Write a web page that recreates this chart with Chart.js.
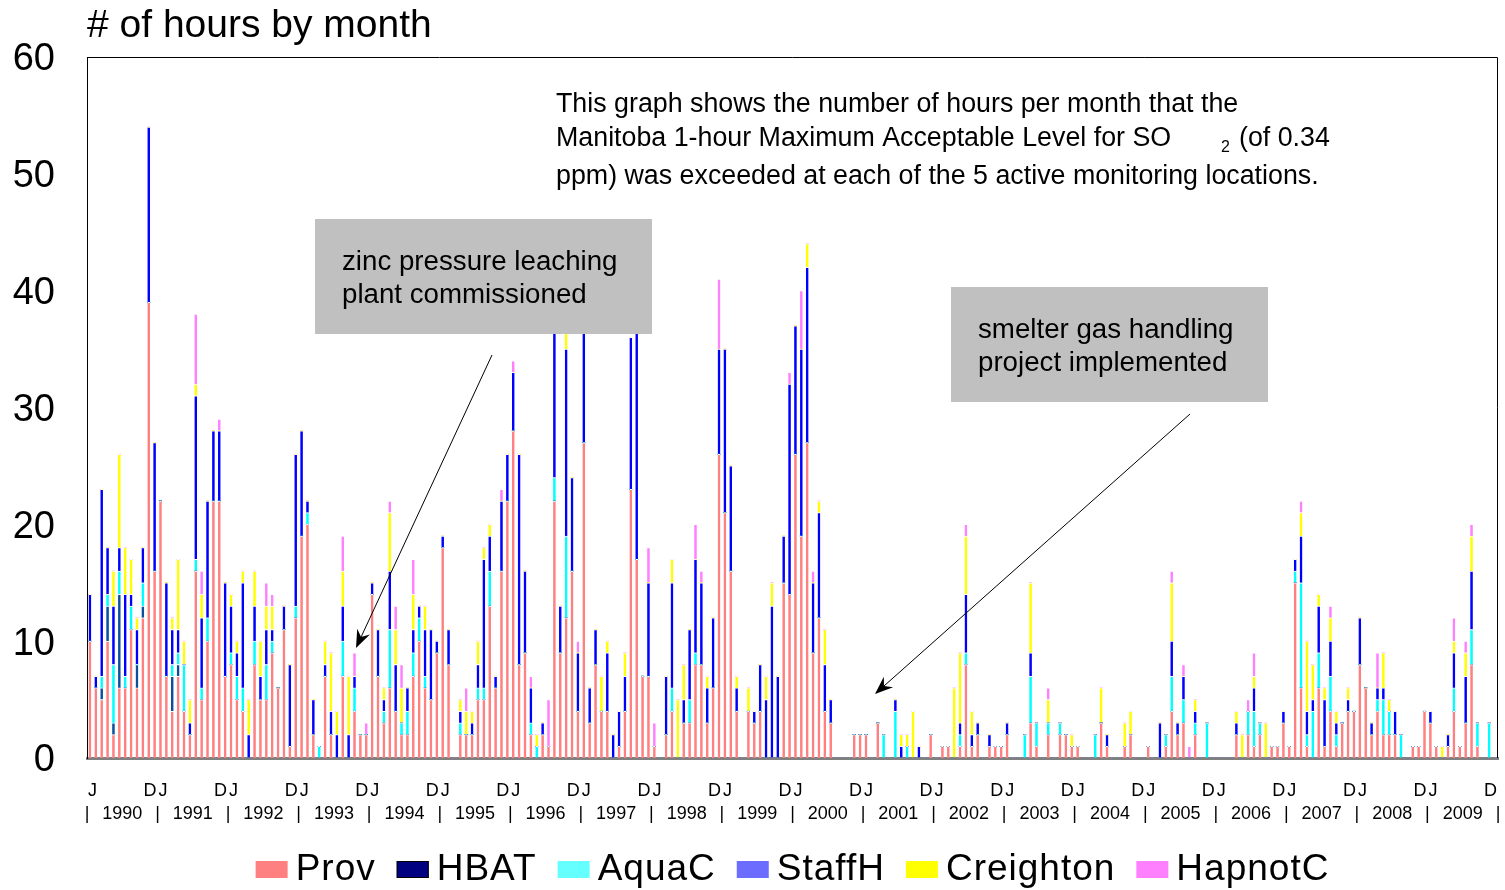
<!DOCTYPE html>
<html>
<head>
<meta charset="utf-8">
<script src="https://cdn.jsdelivr.net/npm/chart.js@4.4.0/dist/chart.umd.min.js"></script>
<style>
  html, body { margin: 0; padding: 0; background: #fff; }
  #wrap { width: 1505px; height: 890px; }
</style>
</head>
<body>
<div id="wrap"><canvas id="so2-chart" width="1505" height="890"></canvas></div>
<script>
// hours per month above the Manitoba 1-hour SO2 level, one line per year (1990..2009)
var years = [1990, 1991, 1992, 1993, 1994, 1995, 1996, 1997, 1998, 1999,
             2000, 2001, 2002, 2003, 2004, 2005, 2006, 2007, 2008, 2009];
var yTicks = [0, 10, 20, 30, 40, 50, 60];
var seriesNames = ['Prov', 'HBAT', 'AquaC', 'StaffH', 'Creighton', 'HapnotC'];

var prov = [
    10, 6, 5, 10, 2, 6, 6, 11, 6, 12, 39, 16,
    22, 7, 4, 7, 4, 2, 16, 5, 10, 22, 22, 7,
    8, 5, 4, 0, 8, 5, 5, 9, 6, 11, 1, 12,
    19, 20, 2, 0, 7, 2, 0, 7, 0, 4, 2, 2,
    14, 7, 3, 6, 4, 2, 2, 7, 10, 6, 5, 9,
    18, 8, 0, 2, 2, 2, 5, 5, 13, 6, 16, 22,
    28, 8, 9, 2, 0, 2, 1, 22, 9, 12, 16, 4,
    27, 3, 8, 4, 4, 0, 1, 4, 23, 17, 7, 7,
    1, 0, 2, 4, 0, 3, 3, 8, 8, 3, 6, 26,
    21, 16, 4, 0, 4, 3, 4, 0, 0, 0, 15, 14,
    26, 19, 27, 9, 12, 4, 3, 0, 0, 0, 2, 2,
    2, 0, 3, 0, 0, 0, 0, 0, 0, 0, 0, 2,
    0, 1, 1, 0, 1, 8, 1, 2, 0, 1, 1, 1,
    2, 0, 0, 0, 3, 1, 0, 2, 0, 2, 2, 1,
    1, 0, 0, 0, 3, 1, 0, 0, 1, 2, 0, 0,
    1, 0, 0, 1, 4, 2, 3, 0, 2, 0, 0, 0,
    0, 0, 0, 2, 0, 2, 1, 2, 0, 1, 1, 3,
    1, 15, 6, 1, 0, 6, 1, 4, 1, 3, 4, 4,
    8, 6, 2, 4, 2, 2, 2, 0, 0, 1, 1, 4,
    3, 1, 0, 1, 4, 1, 3, 8, 1, 0, 0, 0
];
var hbat = [
    0, 0, 1, 3, 1, 8, 0, 0, 2, 1, 0, 0,
    0, 0, 3, 1, 0, 0, 0, 0, 0, 0, 0, 0,
    0, 0, 0, 0, 0, 0, 0, 0, 0, 0, 0, 0,
    0, 0, 0, 0, 0, 0, 0, 0, 0, 0, 0, 0,
    0, 0, 0, 0, 0, 0, 0, 0, 0, 0, 0, 0,
    0, 0, 0, 0, 0, 0, 0, 0, 0, 0, 0, 0,
    0, 0, 0, 0, 0, 0, 0, 0, 0, 0, 0, 0,
    0, 0, 0, 0, 0, 0, 0, 0, 0, 0, 0, 0,
    0, 0, 0, 0, 0, 0, 0, 0, 0, 0, 0, 0,
    0, 0, 0, 0, 0, 0, 0, 0, 0, 0, 0, 0,
    0, 0, 0, 0, 0, 0, 0, 0, 0, 0, 0, 0,
    0, 0, 0, 0, 0, 0, 0, 0, 0, 0, 0, 0,
    0, 0, 0, 0, 0, 0, 0, 0, 0, 0, 0, 0,
    0, 0, 0, 0, 0, 0, 0, 0, 0, 0, 0, 0,
    0, 0, 0, 0, 0, 0, 0, 0, 0, 0, 0, 0,
    0, 0, 0, 0, 0, 0, 0, 0, 0, 0, 0, 0,
    0, 0, 0, 0, 0, 0, 0, 0, 0, 0, 0, 0,
    0, 0, 0, 0, 0, 0, 0, 0, 0, 0, 0, 0,
    0, 0, 0, 0, 0, 0, 0, 0, 0, 0, 0, 0,
    0, 0, 0, 0, 0, 0, 0, 0, 0, 0, 0, 0
];
var aquaC = [
    0, 0, 1, 1, 5, 2, 1, 2, 0, 2, 0, 0,
    0, 0, 1, 1, 4, 0, 1, 1, 2, 0, 0, 0,
    1, 2, 2, 0, 2, 0, 3, 1, 0, 0, 0, 1,
    0, 1, 0, 1, 0, 0, 0, 3, 0, 2, 0, 0,
    0, 0, 1, 5, 0, 1, 2, 2, 2, 1, 0, 0,
    0, 0, 0, 1, 0, 0, 1, 1, 3, 0, 0, 0,
    0, 0, 0, 1, 1, 0, 0, 2, 0, 7, 0, 0,
    0, 0, 0, 0, 0, 0, 0, 0, 0, 0, 0, 0,
    0, 0, 0, 2, 0, 0, 2, 1, 0, 0, 0, 0,
    0, 0, 0, 0, 0, 0, 0, 0, 0, 0, 0, 0,
    0, 0, 0, 0, 0, 0, 0, 0, 0, 0, 0, 0,
    0, 0, 0, 2, 0, 4, 0, 1, 0, 0, 0, 0,
    0, 0, 0, 0, 1, 1, 0, 0, 0, 0, 0, 0,
    0, 0, 0, 2, 4, 2, 0, 1, 0, 1, 0, 0,
    0, 0, 0, 2, 0, 0, 0, 0, 0, 0, 0, 0,
    0, 0, 0, 1, 3, 0, 2, 0, 1, 0, 3, 0,
    0, 0, 0, 0, 0, 2, 3, 1, 0, 0, 0, 0,
    0, 1, 9, 1, 4, 3, 0, 3, 1, 0, 0, 0,
    0, 0, 0, 1, 3, 2, 0, 2, 0, 0, 0, 0,
    0, 0, 0, 0, 2, 0, 0, 3, 2, 0, 3, 0
];
var staffH = [
    4, 1, 16, 4, 5, 2, 7, 1, 3, 3, 15, 11,
    0, 8, 3, 2, 0, 1, 14, 6, 10, 6, 6, 8,
    4, 2, 9, 2, 3, 2, 3, 1, 0, 2, 7, 13,
    9, 1, 3, 0, 1, 2, 2, 3, 2, 1, 0, 0,
    1, 4, 1, 5, 4, 0, 2, 2, 1, 4, 6, 1,
    1, 3, 0, 1, 0, 1, 2, 11, 3, 1, 6, 4,
    5, 18, 7, 3, 0, 1, 0, 16, 4, 16, 8, 5,
    13, 3, 3, 0, 5, 2, 3, 3, 13, 21, 0, 8,
    0, 0, 5, 9, 0, 2, 6, 8, 7, 3, 6, 9,
    14, 9, 2, 0, 0, 1, 4, 5, 13, 7, 4, 18,
    11, 16, 15, 6, 9, 4, 2, 0, 0, 0, 0, 0,
    0, 0, 0, 0, 0, 1, 1, 0, 0, 1, 0, 0,
    0, 0, 0, 0, 1, 5, 1, 1, 0, 1, 0, 0,
    1, 0, 0, 0, 2, 0, 0, 0, 0, 0, 0, 0,
    0, 0, 0, 0, 0, 1, 0, 0, 0, 0, 0, 0,
    0, 0, 3, 0, 3, 1, 2, 0, 1, 0, 0, 0,
    0, 0, 0, 1, 0, 0, 2, 0, 0, 0, 0, 1,
    0, 1, 4, 2, 1, 4, 4, 3, 1, 0, 1, 0,
    4, 0, 1, 1, 1, 0, 2, 0, 0, 0, 0, 0,
    1, 0, 0, 1, 3, 0, 4, 5, 0, 0, 0, 0
];
var creighton = [
    0, 0, 0, 0, 3, 8, 4, 3, 1, 0, 0, 0,
    0, 0, 1, 6, 2, 2, 1, 2, 0, 0, 0, 0,
    1, 1, 1, 3, 3, 3, 2, 2, 0, 0, 0, 0,
    0, 0, 0, 0, 2, 5, 2, 3, 5, 0, 0, 0,
    0, 0, 1, 5, 3, 3, 0, 3, 0, 2, 0, 0,
    0, 0, 0, 1, 2, 1, 2, 1, 1, 0, 0, 0,
    0, 0, 0, 0, 1, 0, 0, 0, 0, 2, 0, 0,
    0, 0, 0, 3, 1, 0, 0, 2, 0, 0, 0, 0,
    0, 0, 0, 2, 5, 3, 0, 0, 0, 1, 0, 0,
    0, 0, 1, 0, 2, 0, 0, 2, 2, 0, 0, 0,
    0, 0, 2, 0, 1, 3, 0, 0, 0, 0, 0, 0,
    0, 0, 0, 0, 0, 0, 1, 1, 4, 0, 0, 0,
    0, 0, 0, 6, 6, 5, 2, 0, 0, 0, 0, 0,
    0, 0, 0, 0, 6, 0, 0, 2, 0, 0, 0, 1,
    0, 0, 0, 0, 3, 0, 0, 0, 2, 2, 0, 0,
    0, 0, 0, 0, 5, 0, 0, 0, 1, 0, 0, 0,
    0, 0, 0, 1, 2, 0, 1, 0, 3, 0, 0, 0,
    0, 0, 2, 6, 3, 1, 1, 2, 1, 0, 1, 0,
    0, 0, 0, 0, 3, 1, 0, 0, 0, 0, 0, 0,
    0, 0, 1, 0, 1, 0, 2, 3, 0, 0, 0, 0
];
var hapnotC = [
    0, 0, 0, 0, 0, 0, 0, 0, 0, 0, 0, 0,
    0, 0, 0, 0, 0, 0, 6, 2, 0, 0, 1, 0,
    0, 0, 0, 0, 0, 0, 2, 1, 0, 0, 0, 0,
    0, 0, 0, 0, 0, 0, 0, 3, 0, 2, 0, 1,
    0, 0, 0, 1, 2, 2, 0, 3, 0, 0, 0, 0,
    0, 0, 0, 0, 2, 0, 0, 0, 0, 0, 1, 0,
    1, 0, 0, 1, 0, 0, 4, 0, 0, 0, 0, 1,
    0, 0, 0, 0, 0, 0, 0, 0, 0, 0, 0, 3,
    2, 0, 0, 0, 0, 0, 0, 3, 1, 0, 0, 6,
    0, 0, 0, 0, 0, 0, 0, 0, 0, 0, 0, 1,
    0, 5, 0, 1, 0, 0, 0, 0, 0, 0, 0, 0,
    0, 0, 0, 0, 0, 0, 0, 0, 0, 0, 0, 0,
    0, 0, 0, 0, 0, 1, 0, 0, 0, 0, 0, 0,
    0, 0, 0, 0, 0, 0, 0, 1, 0, 0, 0, 0,
    0, 0, 0, 0, 0, 0, 0, 0, 0, 0, 0, 0,
    0, 0, 0, 0, 1, 0, 1, 1, 0, 0, 0, 0,
    0, 0, 0, 0, 0, 1, 2, 0, 0, 0, 0, 0,
    0, 0, 1, 0, 0, 0, 0, 1, 0, 0, 0, 0,
    0, 0, 0, 3, 0, 0, 0, 0, 0, 0, 0, 0,
    0, 0, 0, 0, 2, 0, 1, 1, 0, 0, 0, 0
];

var barColors = ['#FF8080', '#0B4F9F', '#00FFFF', '#0000FF', '#FFFF00', '#FF80FF'];
var legendColors = ['#FF8080', '#000080', '#66FFFF', '#6C6CFF', '#FFFF00', '#FF80FF'];
var FONT = '"Liberation Sans", Arial, sans-serif';

var monthLabels = [];
years.forEach(function (y) {
    for (var m = 1; m <= 12; m++) monthLabels.push(y + '-' + m);
});

var seriesData = [prov, hbat, aquaC, staffH, creighton, hapnotC];
var datasets = seriesData.map(function (d, i) {
    return {
        label: seriesNames[i],
        data: d,
        backgroundColor: barColors[i],
        borderColor: '#ffffff',
        borderWidth: { top: 1, left: 0, right: 0, bottom: 0 },
        barThickness: 2.5
    };
});

function arrow(ctx, x1, y1, x2, y2) {
    var a = Math.atan2(y2 - y1, x2 - x1);
    ctx.beginPath();
    ctx.moveTo(x1, y1);
    ctx.lineTo(x2 - 10 * Math.cos(a), y2 - 10 * Math.sin(a));
    ctx.stroke();
    ctx.beginPath();
    ctx.moveTo(x2, y2);
    ctx.lineTo(x2 - 18 * Math.cos(a) + 7 * Math.sin(a), y2 - 18 * Math.sin(a) - 7 * Math.cos(a));
    ctx.lineTo(x2 - 12 * Math.cos(a), y2 - 12 * Math.sin(a));
    ctx.lineTo(x2 - 18 * Math.cos(a) - 7 * Math.sin(a), y2 - 18 * Math.sin(a) + 7 * Math.cos(a));
    ctx.closePath();
    ctx.fill();
}

var decorPlugin = {
    id: 'decor',
    afterDraw: function (chart) {
        var ctx = chart.ctx;
        var area = chart.chartArea;
        var xs = chart.scales.x;
        ctx.save();

        // frame top/right
        ctx.strokeStyle = '#000';
        ctx.lineWidth = 1;
        ctx.beginPath();
        ctx.moveTo(area.left, area.top + 0.5);
        ctx.lineTo(area.right - 0.5, area.top + 0.5);
        ctx.lineTo(area.right - 0.5, area.bottom);
        ctx.stroke();

        // title
        ctx.fillStyle = '#000';
        ctx.font = '39px ' + FONT;
        ctx.textAlign = 'left';
        ctx.textBaseline = 'middle';
        ctx.fillText('# of hours by month', 87, 26);

        // month / year labels
        ctx.font = '18px ' + FONT;
        var bounds = [];
        for (var k = 0; k <= years.length; k++) {
            if (k === 0) bounds.push(area.left);
            else if (k === years.length) bounds.push(area.right);
            else bounds.push((xs.getPixelForValue(12 * k - 1) + xs.getPixelForValue(12 * k)) / 2);
        }
        bounds.forEach(function (bx, k) {
            if (k < years.length) {
                ctx.textAlign = 'left';
                ctx.fillText('J', bx + 1, 791);
            }
            if (k > 0) {
                ctx.textAlign = 'right';
                ctx.fillText('D', bx - 1, 791);
            }
            ctx.textAlign = 'center';
            ctx.fillText('|', bx, 814);
            if (k < years.length) ctx.fillText(String(years[k]), (bx + bounds[k + 1]) / 2, 814);
        });

        // explanatory note
        ctx.textAlign = 'left';
        ctx.font = '26.8px ' + FONT;
        ctx.fillText('This graph shows the number of hours per month that the', 556, 105);
        ctx.fillText('Manitoba 1-hour Maximum Acceptable Level for SO', 556, 139);
        ctx.fillText('(of 0.34', 1239, 139);
        ctx.fillText('ppm) was exceeded at each of the 5 active monitoring locations.', 556, 177);
        ctx.font = '16px ' + FONT;
        ctx.fillText('2', 1221, 148);

        // grey callouts
        ctx.fillStyle = '#C0C0C0';
        ctx.fillRect(315, 219, 337, 115);
        ctx.fillRect(951, 287, 317, 115);
        ctx.fillStyle = '#000';
        ctx.font = '27.7px ' + FONT;
        ctx.fillText('zinc pressure leaching', 342, 262);
        ctx.fillText('plant commissioned', 342, 295);
        ctx.fillText('smelter gas handling', 978, 330);
        ctx.fillText('project implemented', 978, 363);

        ctx.strokeStyle = '#000';
        ctx.lineWidth = 1;
        arrow(ctx, 492, 355, 356, 648);
        arrow(ctx, 1190, 414, 875, 694);

        // legend
        ctx.font = '37px ' + FONT;
        ctx.letterSpacing = '1px';
        var widths = seriesNames.map(function (n) { return 32 + 8 + ctx.measureText(n).width; });
        var gap = 21;
        var total = widths.reduce(function (a, b) { return a + b; }, 0) + gap * (widths.length - 1);
        var lx = (area.left + area.right) / 2 - total / 2;
        seriesNames.forEach(function (n, i) {
            ctx.fillStyle = legendColors[i];
            ctx.fillRect(lx, 861, 32, 17);
            if (i === 1) {
                ctx.strokeStyle = '#000';
                ctx.strokeRect(lx + 0.5, 861.5, 31, 16);
            }
            ctx.fillStyle = '#000';
            ctx.textAlign = 'left';
            ctx.fillText(n, lx + 40, 870);
            lx += widths[i] + gap;
        });
        ctx.restore();
    }
};

var ctx = document.getElementById('so2-chart');
new Chart(ctx.getContext('2d'), {
    type: 'bar',
    data: { labels: monthLabels, datasets: datasets },
    options: {
        responsive: false,
        animation: false,
        devicePixelRatio: 1,
        layout: { padding: { top: 57, right: 7, left: 0, bottom: 132 } },
        plugins: {
            legend: { display: false },
            tooltip: { enabled: false }
        },
        scales: {
            x: {
                stacked: true,
                grid: { display: false },
                ticks: { display: false },
                border: { color: '#808080', width: 3 },
                afterFit: function (s) { s.height = 0; }
            },
            y: {
                stacked: true,
                min: yTicks[0],
                max: yTicks[yTicks.length - 1],
                afterBuildTicks: function (s) {
                    s.ticks = yTicks.map(function (v) { return { value: v }; });
                },
                ticks: { font: { size: 38, family: FONT }, color: '#000', padding: 32, labelOffset: 3 },
                grid: { display: false, drawTicks: false },
                border: { color: '#000', width: 1 },
                afterFit: function (s) { s.width = 87; }
            }
        }
    },
    plugins: [decorPlugin]
});
</script>
</body>
</html>
